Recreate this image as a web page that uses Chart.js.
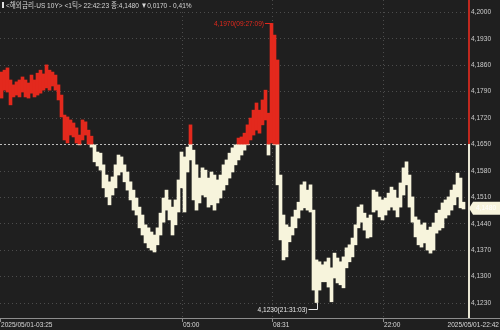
<!DOCTYPE html>
<html>
<head>
<meta charset="utf-8">
<script src="https://cdn.jsdelivr.net/npm/chart.js@4"></script>
<style>
html, body { margin: 0; padding: 0; background: #1f1f1f; }
</style>
</head>
<body>
<canvas id="grafico" width="500" height="330"></canvas>
<script>
// tick chart, each bar = high/low of a slice of ticks
const hi = [
  4.1841, 4.1846, 4.1852, 4.1820, 4.1807, 4.1815, 4.1820, 4.1828, 4.1820, 4.1812,
  4.1833, 4.1820, 4.1838, 4.1846, 4.1836, 4.1860, 4.1846, 4.1841, 4.1833, 4.1807,
  4.1780, 4.1727, 4.1722, 4.1714, 4.1706, 4.1693, 4.1674, 4.1714, 4.1709, 4.1687,
  4.1671, 4.1648, 4.1629, 4.1626, 4.1595, 4.1568, 4.1550, 4.1563, 4.1595, 4.1621,
  4.1616, 4.1595, 4.1576, 4.1550, 4.1528, 4.1507, 4.1483, 4.1462, 4.1436, 4.1428,
  4.1417, 4.1409, 4.1428, 4.1467, 4.1507, 4.1528, 4.1502, 4.1483, 4.1502, 4.1555,
  4.1629, 4.1616, 4.1642, 4.1701, 4.1634, 4.1595, 4.1560, 4.1587, 4.1581, 4.1560,
  4.1576, 4.1568, 4.1555, 4.1568, 4.1595, 4.1608, 4.1626, 4.1640, 4.1648, 4.1666,
  4.1669, 4.1679, 4.1701, 4.1719, 4.1740, 4.1759, 4.1740, 4.1767, 4.1793, 4.1732,
  4.1970, 4.1939, 4.1873, 4.1568, 4.1462, 4.1436, 4.1430, 4.1457, 4.1475, 4.1496,
  4.1542, 4.1550, 4.1528, 4.1542, 4.1475, 4.1343, 4.1338, 4.1330, 4.1338, 4.1348,
  4.1322, 4.1361, 4.1348, 4.1338, 4.1351, 4.1375, 4.1383, 4.1401, 4.1436, 4.1483,
  4.1489, 4.1467, 4.1454, 4.1462, 4.1528, 4.1523, 4.1510, 4.1502, 4.1507, 4.1520,
  4.1536, 4.1528, 4.1507, 4.1547, 4.1587, 4.1603, 4.1568, 4.1510, 4.1457, 4.1449,
  4.1436, 4.1441, 4.1422, 4.1430, 4.1441, 4.1467, 4.1475, 4.1494, 4.1502, 4.1510,
  4.1528, 4.1542, 4.1573, 4.1560, 4.1496
];
const lo = [
  4.1772, 4.1793, 4.1788, 4.1754, 4.1775, 4.1780, 4.1775, 4.1788, 4.1775, 4.1772,
  4.1785, 4.1775, 4.1780, 4.1785, 4.1793, 4.1799, 4.1793, 4.1804, 4.1793, 4.1767,
  4.1722, 4.1661, 4.1653, 4.1674, 4.1669, 4.1653, 4.1648, 4.1661, 4.1674, 4.1650,
  4.1642, 4.1603, 4.1592, 4.1581, 4.1534, 4.1510, 4.1489, 4.1515, 4.1534, 4.1568,
  4.1576, 4.1550, 4.1528, 4.1502, 4.1475, 4.1462, 4.1428, 4.1409, 4.1388, 4.1375,
  4.1369, 4.1364, 4.1383, 4.1409, 4.1443, 4.1475, 4.1449, 4.1409, 4.1436, 4.1470,
  4.1534, 4.1470, 4.1576, 4.1608, 4.1502, 4.1475, 4.1494, 4.1515, 4.1510, 4.1483,
  4.1489, 4.1475, 4.1494, 4.1507, 4.1528, 4.1542, 4.1560, 4.1576, 4.1595, 4.1608,
  4.1621, 4.1634, 4.1648, 4.1661, 4.1674, 4.1687, 4.1679, 4.1701, 4.1714, 4.1621,
  4.1653, 4.1648, 4.1542, 4.1396, 4.1343, 4.1351, 4.1391, 4.1409, 4.1428, 4.1454,
  4.1475, 4.1481, 4.1475, 4.1470, 4.1263, 4.1230, 4.1263, 4.1285, 4.1285, 4.1271,
  4.1232, 4.1295, 4.1282, 4.1277, 4.1269, 4.1322, 4.1338, 4.1351, 4.1383, 4.1428,
  4.1443, 4.1422, 4.1401, 4.1404, 4.1470, 4.1475, 4.1457, 4.1449, 4.1462, 4.1475,
  4.1483, 4.1475, 4.1457, 4.1483, 4.1515, 4.1542, 4.1483, 4.1443, 4.1404, 4.1383,
  4.1377, 4.1388, 4.1369, 4.1361, 4.1369, 4.1414, 4.1422, 4.1428, 4.1454, 4.1462,
  4.1475, 4.1489, 4.1510, 4.1481, 4.1478
];
const slots = 156;            // slots on the x axis (last ones empty)
const prevClose = 4.1650;     // 전일종가 line
const yTicks = [4.2000, 4.1930, 4.1860, 4.1790, 4.1720, 4.1650, 4.1580, 4.1510, 4.1440, 4.1370, 4.1300, 4.1230];
const xTickIdx = [60, 90, 127];
const xTickText = ['05:00', '08:31', '22:00'];
const firstLabel = '2025/05/01-03:25';
const lastLabel = '2025/05/01-22:42';
const header = '<해외금리-US 10Y> <1틱> 22:42:23 종:4,1480 ▼0,0170 - 0,41%';
const highIdx = 90, highVal = 4.1970, highText = '4,1970(09:27:09)';
const lowIdx = 105, lowVal = 4.1230, lowText = '4,1230(21:31:03)';
const lastVal = 4.1480;

const RED = '#e3291d';
const CREAM = '#f7f4dc';
const FONT = '"Liberation Sans", "Noto Sans CJK KR", sans-serif';
const SQUEEZE = 0.82;   // narrow look of the terminal font

const labels = [];
for (let i = 0; i < slots; i++) labels.push(i);
const redPart = labels.map(i => (i < hi.length && hi[i] > prevClose) ? [Math.max(lo[i], prevClose), hi[i]] : null);
const creamPart = labels.map(i => (i < lo.length && lo[i] < prevClose) ? [lo[i], Math.min(hi[i], prevClose)] : null);

const fmt = v => v.toFixed(4).replace('.', ',');

// narrow text helper
function txt(ctx, s, x, y, align) {
  ctx.save();
  ctx.translate(x, y);
  ctx.scale(SQUEEZE, 1);
  ctx.textAlign = align;
  ctx.textBaseline = 'middle';
  ctx.fillText(s, 0, 0);
  ctx.restore();
}

const deco = {
  id: 'deco',
  beforeDraw(c) {
    const ctx = c.ctx;
    ctx.save();
    ctx.fillStyle = '#1f1f1f';
    ctx.fillRect(0, 0, c.width, c.height);
    ctx.restore();
  },
  beforeDatasetsDraw(c) {
    const { ctx, chartArea: a, scales: { x, y } } = c;
    ctx.save();
    ctx.lineWidth = 1;
    ctx.strokeStyle = '#4c4c4c';
    ctx.setLineDash([1, 3]);
    y.ticks.forEach(t => {
      if (Math.abs(t.value - prevClose) < 1e-6) return;
      const py = Math.round(y.getPixelForValue(t.value)) + 0.5;
      ctx.beginPath(); ctx.moveTo(a.left, py); ctx.lineTo(a.right, py); ctx.stroke();
    });
    xTickIdx.forEach(i => {
      const px = Math.round(x.getPixelForValue(i)) + 0.5;
      ctx.beginPath(); ctx.moveTo(px, a.top); ctx.lineTo(px, a.bottom); ctx.stroke();
    });
    ctx.strokeStyle = '#bdbdbd';
    ctx.setLineDash([2, 2]);
    const pc = Math.round(y.getPixelForValue(prevClose)) + 0.5;
    ctx.beginPath(); ctx.moveTo(a.left, pc); ctx.lineTo(a.right, pc); ctx.stroke();
    ctx.restore();
  },
  afterDraw(c) {
    const { ctx, chartArea: a, scales: { x, y } } = c;
    ctx.save();
    ctx.font = '8px ' + FONT;
    // y labels from the scale ticks
    ctx.fillStyle = '#cdcdcd';
    y.ticks.forEach(t => txt(ctx, fmt(t.value), a.right + 3, y.getPixelForValue(t.value), 'left'));
    // right axis line, red above previous close
    const pc = y.getPixelForValue(prevClose);
    ctx.lineWidth = 2;
    ctx.strokeStyle = '#c0281e';
    ctx.beginPath(); ctx.moveTo(a.right + 1, 0); ctx.lineTo(a.right + 1, pc); ctx.stroke();
    ctx.strokeStyle = '#e8e6d4';
    ctx.beginPath(); ctx.moveTo(a.right + 1, pc); ctx.lineTo(a.right + 1, a.bottom); ctx.stroke();
    // bottom axis
    ctx.lineWidth = 1;
    ctx.strokeStyle = '#8c8c8c';
    ctx.beginPath(); ctx.moveTo(0, a.bottom + 0.5); ctx.lineTo(500, a.bottom + 0.5); ctx.stroke();
    const tickX = [0.5].concat(xTickIdx.map(i => Math.round(x.getPixelForValue(i)) + 0.5));
    tickX.forEach(px => {
      ctx.beginPath(); ctx.moveTo(px, a.bottom); ctx.lineTo(px, a.bottom + 4); ctx.stroke();
    });
    ctx.fillStyle = '#d8d8d8';
    txt(ctx, firstLabel, 1, a.bottom + 6.5, 'left');
    xTickIdx.forEach((i, k) => txt(ctx, xTickText[k], tickX[k + 1] + 0.5, a.bottom + 6.5, 'left'));
    txt(ctx, lastLabel, 499, a.bottom + 6.5, 'right');
    // header
    ctx.fillStyle = '#e0e0e0';
    ctx.fillRect(2, 2, 2, 6);
    ctx.fillStyle = '#d6d6d6';
    txt(ctx, header, 6, 5.5, 'left');
    // high mark
    const hx = Math.round(x.getPixelForValue(highIdx)), hy = Math.round(y.getPixelForValue(highVal)) + 0.5;
    ctx.strokeStyle = RED;
    ctx.beginPath(); ctx.moveTo(hx - 7, hy); ctx.lineTo(hx, hy); ctx.stroke();
    ctx.fillStyle = RED;
    txt(ctx, highText, hx - 8, hy, 'right');
    // low mark
    const lx = Math.round(x.getPixelForValue(lowIdx)) + 0.5, ly = Math.round(y.getPixelForValue(lowVal));
    ctx.strokeStyle = '#e6e6e6';
    ctx.beginPath(); ctx.moveTo(lx - 9, ly + 6.5); ctx.lineTo(lx, ly + 6.5); ctx.lineTo(lx, ly); ctx.stroke();
    ctx.fillStyle = '#e6e6e6';
    txt(ctx, lowText, lx - 10, ly + 6.5, 'right');
    // current price tag
    const py = y.getPixelForValue(lastVal);
    ctx.fillStyle = CREAM;
    ctx.beginPath();
    ctx.moveTo(a.right + 1, py);
    ctx.lineTo(a.right + 5, py - 6.5);
    ctx.lineTo(500, py - 6.5);
    ctx.lineTo(500, py + 6.5);
    ctx.lineTo(a.right + 5, py + 6.5);
    ctx.closePath();
    ctx.fill();
    ctx.fillStyle = '#ffffff';
    txt(ctx, fmt(lastVal), a.right + 8, py, 'left');
    ctx.restore();
  }
};

const ctx = document.getElementById('grafico').getContext('2d');
window.myChart = new Chart(ctx, {
  type: 'bar',
  data: {
    labels: labels,
    datasets: [
      { data: redPart, backgroundColor: RED, borderWidth: 0, barPercentage: 1, categoryPercentage: 1, grouped: false },
      { data: creamPart, backgroundColor: CREAM, borderWidth: 0, barPercentage: 1, categoryPercentage: 1, grouped: false }
    ]
  },
  options: {
    responsive: false,
    animation: false,
    layout: { padding: { top: 0, bottom: 12, left: 0, right: 0 } },
    plugins: { legend: { display: false }, tooltip: { enabled: false } },
    scales: {
      x: { display: false, offset: true },
      y: {
        position: 'right',
        min: 4.1189,
        max: 4.2032,
        afterBuildTicks: s => { s.ticks = yTicks.map(v => ({ value: v })); },
        afterFit: s => { s.width = 32; },
        grid: { display: false, drawTicks: false },
        border: { display: false },
        ticks: { display: false }
      }
    }
  },
  plugins: [deco]
});
</script>
</body>
</html>
